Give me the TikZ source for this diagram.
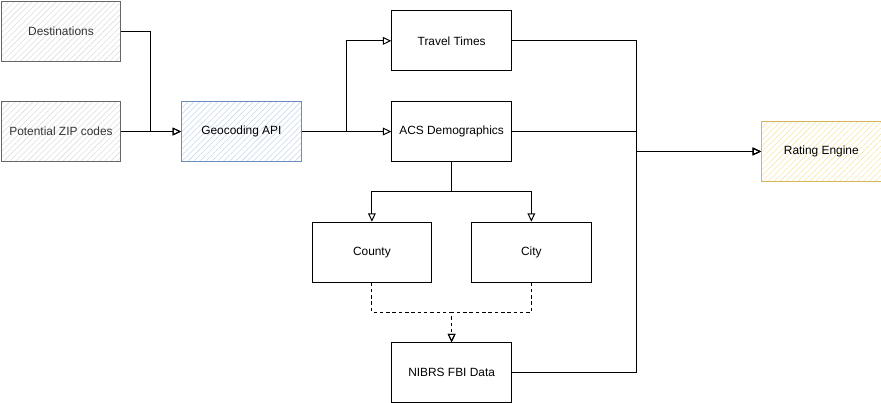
\documentclass[tikz,border=0pt]{standalone}
\usepackage{fontspec}
\setmainfont{Liberation Sans}
\usepackage{xcolor}
\usepackage{tikz}
\usetikzlibrary{arrows.meta,positioning,patterns.meta}

\definecolor{grayline}{HTML}{666666}
\definecolor{grayhatch}{HTML}{DDDDDD}
\definecolor{blueline}{HTML}{6C8EBF}
\definecolor{bluehatch}{HTML}{C4D6F0}
\definecolor{yellowline}{HTML}{D6B656}
\definecolor{yellowhatch}{HTML}{F8E4A8}

\begin{document}
\begin{tikzpicture}[
  node distance=1cm and 1.5cm,
  box/.style={draw, line width=0.7pt, minimum width=3cm, minimum height=1.5cm, align=center,
    font=\fontsize{8.5}{10}\selectfont, inner sep=2pt},
  inbox/.style={box, draw=grayline, text=black!80, pattern={Lines[angle=45,distance=3pt,line width=0.4pt]}, pattern color=grayhatch},
  apibox/.style={box, draw=blueline, pattern={Lines[angle=45,distance=3pt,line width=0.4pt]}, pattern color=bluehatch},
  outbox/.style={box, draw=yellowline, pattern={Lines[angle=45,distance=3pt,line width=0.4pt]}, pattern color=yellowhatch},
  arr/.style={-{Triangle[open,length=6pt,width=5.5pt]}, line width=0.7pt},
  dasharr/.style={arr, dash pattern=on 2.5pt off 2pt}
]
  \useasboundingbox (-0.03,0.03) rectangle (22.07,-10.07);

  \node[inbox] (dest) at (1.5,-0.75) {Destinations};
  \node[inbox, below=of dest] (zip) {Potential ZIP codes};
  \node[apibox, right=of zip] (geo) {Geocoding API};
  \node[box, right=2.25cm of geo] (acs) {ACS Demographics};
  \node[box, above=0.75cm of acs] (travel) {Travel Times};
  \node[box, below=1.5cm of acs, xshift=-2cm] (county) {County};
  \node[box, below=1.5cm of acs, xshift=2cm] (city) {City};
  \node[box, below=1.5cm of county, xshift=2cm] (nibrs) {NIBRS FBI Data};
  \node[outbox, right=6.25cm of acs, yshift=-0.5cm] (rating) {Rating Engine};

  \draw[arr] (dest.east) -- ++(0.75,0) |- (geo.west);
  \draw[arr] (zip) -- (geo);
  \draw[arr] (geo.east) -- ++(1.125,0) |- (travel.west);
  \draw[arr] (geo) -- (acs);
  \draw[arr] (acs.south) -- ++(0,-0.75) -| (county.north);
  \draw[arr] (acs.south) -- ++(0,-0.75) -| (city.north);
  \draw[dasharr] (county.south) -- ++(0,-0.75) -| (nibrs.north);
  \draw[dasharr] (city.south) -- ++(0,-0.75) -| (nibrs.north);
  \draw[arr] (travel.east) -- ++(3.125,0) |- (rating.west);
  \draw[arr] (acs.east) -- ++(3.125,0) |- (rating.west);
  \draw[arr] (nibrs.east) -- ++(3.125,0) |- (rating.west);
\end{tikzpicture}
\end{document}
